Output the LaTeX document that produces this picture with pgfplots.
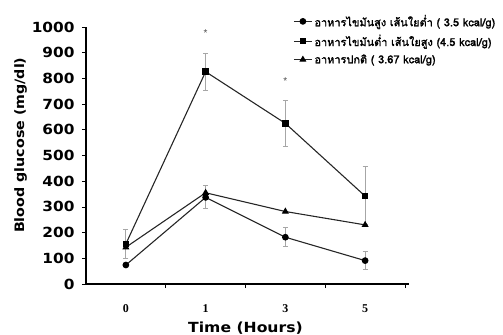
\documentclass[border=0pt]{standalone}
\usepackage{pgfplots}
\pgfplotsset{compat=1.18}
\usepackage{fontspec}
\setmainfont{Liberation Sans}
\newfontfamily\thaifont[Script=Thai, FakeBold=1.5]{Loma}
\newfontfamily\labfont[FakeStretch=1.1]{DejaVu Sans}
\newfontfamily\xlabfont[FakeStretch=1.12]{DejaVu Sans}
\newfontfamily\serfont{Liberation Serif}
\begin{document}
\begin{tikzpicture}
\path[use as bounding box] (0,0) rectangle (503bp,335bp);
\begin{axis}[
  at={(86bp,51bp)}, anchor=south west,
  scale only axis, width=319bp, height=257bp,
  xmin=-0.5, xmax=3.5, ymin=0, ymax=1000,
  axis lines=left,
  axis line style={-},
  x axis line style={line width=1.4pt, shorten >=-4bp},
  y axis line style={line width=2.2pt},
  xtick={0.5,1.5,2.5,3.5}, xticklabels={},
  extra x ticks={0,1,2,3}, extra x tick labels={0,1,3,5},
  extra x tick style={major tick length=0pt, tick label style={font=\serfont\bfseries\fontsize{12}{13}\selectfont, yshift=-17bp}},
  x tick style={line width=0.8pt, black},
  tick align=outside,
  xtick pos=bottom, ytick pos=left,
  major tick length=4bp,
  ytick={0,100,...,1000},
  y tick style={line width=0.8pt, black},
  yticklabel style={font=\labfont\bfseries\fontsize{14}{15}\selectfont, xshift=-4bp},
  /pgf/number format/1000 sep={},
  /pgf/number format/assume math mode=true,
  ylabel={Blood glucose (mg/dl)},
  ylabel style={font=\labfont\bfseries\fontsize{13}{15}\selectfont, at={(ticklabel cs:0.54)}, yshift=-2bp},
  xlabel={Time (Hours)},
  xlabel style={font=\xlabfont\bfseries\fontsize{14}{15}\selectfont, yshift=2bp},
  legend style={draw=none, fill=none, at={(0.64,1.063)}, anchor=north west,
    font=\thaifont\fontsize{11}{12}\selectfont, row sep=3bp},
  legend cell align=left,
  legend image code/.code={\draw[mark repeat=2,mark phase=2,#1] plot coordinates {(0bp,0bp) (9bp,0bp) (18bp,0bp)};},
  every axis plot/.append style={line width=1.1pt, color=black!85},
  error bars/error bar style={gray!70, line width=0.8pt},
  error bars/error mark options={rotate=90, gray!70, mark size=2.5pt, line width=0.8pt},
]
\addplot[mark=*, mark size=2.8pt, mark options={black}, error bars/.cd, y dir=both, y explicit]
  coordinates {(0,74) (1,337) -= (0,42) (2,182) += (0,37) -= (0,34) (3,91) += (0,35) -= (0,34)};
\addlegendentry{อาหารไขมันสูง เส้นใยต่ำ ( 3.5 kcal/g)}
\addplot[mark=square*, mark size=2.8pt, mark options={black}, error bars/.cd, y dir=both, y explicit]
  coordinates {(0,156) += (0,58) -= (0,55) (1,826) += (0,72) -= (0,71) (2,625) += (0,91) -= (0,91) (3,342) += (0,114) -= (0,112)};
\addlegendentry{อาหารไขมันต่ำ เส้นใยสูง (4.5 kcal/g)}
\addplot[mark=triangle*, mark size=3pt, mark options={black}, error bars/.cd, y dir=both, y explicit]
  coordinates {(0,143) (1,355) += (0,30) (2,282) (3,230)};
\addlegendentry{อาหารปกติ ( 3.67 kcal/g)}
\node[font=\fontsize{10}{10}\selectfont, black!70] at (axis cs:1,975) {*};
\node[font=\fontsize{10}{10}\selectfont, black!70] at (axis cs:2,790) {*};
\end{axis}
\end{tikzpicture}
\end{document}
